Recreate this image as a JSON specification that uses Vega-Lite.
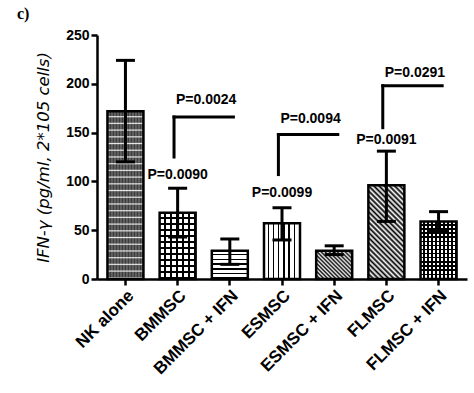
{
  "$schema": "https://vega.github.io/schema/vega-lite/v6.json",
  "width": 370,
  "height": 244,
  "autosize": "none",
  "padding": {"left": 97, "top": 35, "right": 7, "bottom": 114},
  "background": "white",
  "config": {"view": {"stroke": null}},
  "title": {"text": "c)", "anchor": "start", "frame": "group", "font": "Liberation Serif", "fontSize": 16, "fontWeight": "bold", "color": "#000", "dx": -80, "offset": 6},
  "datasets": {
    "bars": [
      {"group": "NK alone", "mean": 172, "lo": 120, "hi": 224},
      {"group": "BMMSC", "mean": 68, "lo": 43, "hi": 93},
      {"group": "BMMSC + IFN", "mean": 29, "lo": 15, "hi": 41},
      {"group": "ESMSC", "mean": 57, "lo": 40, "hi": 73},
      {"group": "ESMSC + IFN", "mean": 29, "lo": 25, "hi": 34},
      {"group": "FLMSC", "mean": 96, "lo": 59, "hi": 131},
      {"group": "FLMSC + IFN", "mean": 59, "lo": 49, "hi": 69}
    ],
    "brackets": [
      {"group": "BMMSC", "group2": "BMMSC + IFN", "top": 166, "bottom": 125, "p": "P=0.0024", "ty": 183},
      {"group": "ESMSC", "group2": "ESMSC + IFN", "top": 148, "bottom": 107, "p": "P=0.0094", "ty": 164},
      {"group": "FLMSC", "group2": "FLMSC + IFN", "top": 198, "bottom": 155, "p": "P=0.0291", "ty": 211}
    ],
    "pvals": [
      {"group": "BMMSC", "p": "P=0.0090", "ty": 107},
      {"group": "ESMSC", "p": "P=0.0099", "ty": 88},
      {"group": "FLMSC", "p": "P=0.0091", "ty": 142}
    ]
  },
  "data": {"name": "bars"},
  "encoding": {
    "x": {
      "field": "group", "type": "nominal",
      "sort": ["NK alone", "BMMSC", "BMMSC + IFN", "ESMSC", "ESMSC + IFN", "FLMSC", "FLMSC + IFN"],
      "scale": {"paddingInner": 0.31, "paddingOuter": 0.2},
      "axis": {"title": null, "labelAngle": -45, "labelFont": "Liberation Sans", "labelFontSize": 17, "labelFontWeight": "bold", "labelColor": "#000", "domainColor": "#000", "domainWidth": 2.5, "tickColor": "#000", "tickWidth": 2.5, "tickSize": 6, "labelPadding": 2}
    }
  },
  "layer": [
    {
      "transform": [{"filter": "datum.group == 'NK alone'"}],
      "mark": {"type": "bar", "fill": {"gradient": "linear", "x1": 0, "y1": 0, "x2": 0, "y2": 1, "stops": [
        {"offset": 0, "color": "#3a3a3a"}, {"offset": 0.026, "color": "#3a3a3a"}, {"offset": 0.033, "color": "#e6e6e6"},
        {"offset": 0.04, "color": "#3a3a3a"}, {"offset": 0.066, "color": "#3a3a3a"}, {"offset": 0.073, "color": "#e6e6e6"},
        {"offset": 0.08, "color": "#3a3a3a"}, {"offset": 0.106, "color": "#3a3a3a"}, {"offset": 0.113, "color": "#e6e6e6"},
        {"offset": 0.12, "color": "#3a3a3a"}, {"offset": 0.146, "color": "#3a3a3a"}, {"offset": 0.153, "color": "#e6e6e6"},
        {"offset": 0.16, "color": "#3a3a3a"}, {"offset": 0.186, "color": "#3a3a3a"}, {"offset": 0.193, "color": "#e6e6e6"},
        {"offset": 0.2, "color": "#3a3a3a"}, {"offset": 0.226, "color": "#3a3a3a"}, {"offset": 0.233, "color": "#e6e6e6"},
        {"offset": 0.24, "color": "#3a3a3a"}, {"offset": 0.266, "color": "#3a3a3a"}, {"offset": 0.273, "color": "#e6e6e6"},
        {"offset": 0.28, "color": "#3a3a3a"}, {"offset": 0.306, "color": "#3a3a3a"}, {"offset": 0.313, "color": "#e6e6e6"},
        {"offset": 0.32, "color": "#3a3a3a"}, {"offset": 0.346, "color": "#3a3a3a"}, {"offset": 0.353, "color": "#e6e6e6"},
        {"offset": 0.36, "color": "#3a3a3a"}, {"offset": 0.386, "color": "#3a3a3a"}, {"offset": 0.393, "color": "#e6e6e6"},
        {"offset": 0.4, "color": "#3a3a3a"}, {"offset": 0.426, "color": "#3a3a3a"}, {"offset": 0.433, "color": "#e6e6e6"},
        {"offset": 0.44, "color": "#3a3a3a"}, {"offset": 0.466, "color": "#3a3a3a"}, {"offset": 0.473, "color": "#e6e6e6"},
        {"offset": 0.48, "color": "#3a3a3a"}, {"offset": 0.506, "color": "#3a3a3a"}, {"offset": 0.513, "color": "#e6e6e6"},
        {"offset": 0.52, "color": "#3a3a3a"}, {"offset": 0.546, "color": "#3a3a3a"}, {"offset": 0.553, "color": "#e6e6e6"},
        {"offset": 0.56, "color": "#3a3a3a"}, {"offset": 0.586, "color": "#3a3a3a"}, {"offset": 0.593, "color": "#e6e6e6"},
        {"offset": 0.6, "color": "#3a3a3a"}, {"offset": 0.626, "color": "#3a3a3a"}, {"offset": 0.633, "color": "#e6e6e6"},
        {"offset": 0.64, "color": "#3a3a3a"}, {"offset": 0.666, "color": "#3a3a3a"}, {"offset": 0.673, "color": "#e6e6e6"},
        {"offset": 0.68, "color": "#3a3a3a"}, {"offset": 0.706, "color": "#3a3a3a"}, {"offset": 0.713, "color": "#e6e6e6"},
        {"offset": 0.72, "color": "#3a3a3a"}, {"offset": 0.746, "color": "#3a3a3a"}, {"offset": 0.753, "color": "#e6e6e6"},
        {"offset": 0.76, "color": "#3a3a3a"}, {"offset": 0.786, "color": "#3a3a3a"}, {"offset": 0.793, "color": "#e6e6e6"},
        {"offset": 0.8, "color": "#3a3a3a"}, {"offset": 0.826, "color": "#3a3a3a"}, {"offset": 0.833, "color": "#e6e6e6"},
        {"offset": 0.84, "color": "#3a3a3a"}, {"offset": 0.866, "color": "#3a3a3a"}, {"offset": 0.873, "color": "#e6e6e6"},
        {"offset": 0.88, "color": "#3a3a3a"}, {"offset": 0.906, "color": "#3a3a3a"}, {"offset": 0.913, "color": "#e6e6e6"},
        {"offset": 0.92, "color": "#3a3a3a"}, {"offset": 0.946, "color": "#3a3a3a"}, {"offset": 0.953, "color": "#e6e6e6"},
        {"offset": 0.96, "color": "#3a3a3a"}, {"offset": 0.986, "color": "#3a3a3a"}, {"offset": 0.993, "color": "#e6e6e6"},
        {"offset": 1, "color": "#3a3a3a"}
      ]}},
      "encoding": {
        "y": {"field": "mean", "type": "quantitative", "scale": {"domain": [0, 250], "nice": false},
          "axis": {"values": [0, 50, 100, 150, 200, 250], "grid": false, "title": "IFN-γ (pg/ml, 2*105 cells)", "titleFont": "DejaVu Sans", "titleFontStyle": "italic", "titleFontWeight": "normal", "titleFontSize": 16.5, "titleColor": "#000", "titleAngle": 270, "titleX": -54, "titleY": 122, "titleAlign": "center", "titleBaseline": "middle", "labelFont": "Liberation Sans", "labelFontSize": 14, "labelFontWeight": "bold", "labelColor": "#000", "domainColor": "#000", "domainWidth": 2.5, "tickColor": "#000", "tickWidth": 2.5, "tickSize": 6, "labelPadding": 2}}
      }
    },
    {
      "transform": [{"filter": "datum.group == 'NK alone'"}],
      "mark": {"type": "bar", "fill": {"gradient": "linear", "x1": 0, "y1": 0, "x2": 1, "y2": 0, "stops": [
        {"offset": 0, "color": "rgba(255,255,255,0)"}, {"offset": 0.0417, "color": "rgba(255,255,255,0.28)"},
        {"offset": 0.0833, "color": "rgba(255,255,255,0)"}, {"offset": 0.125, "color": "rgba(255,255,255,0.28)"},
        {"offset": 0.1667, "color": "rgba(255,255,255,0)"}, {"offset": 0.2083, "color": "rgba(255,255,255,0.28)"},
        {"offset": 0.25, "color": "rgba(255,255,255,0)"}, {"offset": 0.2917, "color": "rgba(255,255,255,0.28)"},
        {"offset": 0.3333, "color": "rgba(255,255,255,0)"}, {"offset": 0.375, "color": "rgba(255,255,255,0.28)"},
        {"offset": 0.4167, "color": "rgba(255,255,255,0)"}, {"offset": 0.4583, "color": "rgba(255,255,255,0.28)"},
        {"offset": 0.5, "color": "rgba(255,255,255,0)"}, {"offset": 0.5417, "color": "rgba(255,255,255,0.28)"},
        {"offset": 0.5833, "color": "rgba(255,255,255,0)"}, {"offset": 0.625, "color": "rgba(255,255,255,0.28)"},
        {"offset": 0.6667, "color": "rgba(255,255,255,0)"}, {"offset": 0.7083, "color": "rgba(255,255,255,0.28)"},
        {"offset": 0.75, "color": "rgba(255,255,255,0)"}, {"offset": 0.7917, "color": "rgba(255,255,255,0.28)"},
        {"offset": 0.8333, "color": "rgba(255,255,255,0)"}, {"offset": 0.875, "color": "rgba(255,255,255,0.28)"},
        {"offset": 0.9167, "color": "rgba(255,255,255,0)"}, {"offset": 0.9583, "color": "rgba(255,255,255,0.28)"},
        {"offset": 1, "color": "rgba(255,255,255,0)"}
      ]}},
      "encoding": {"y": {"field": "mean", "type": "quantitative"}}
    },
    {
      "transform": [{"filter": "datum.group == 'BMMSC'"}],
      "mark": {"type": "bar", "fill": {"gradient": "linear", "x1": 0, "y1": 0, "x2": 0, "y2": 1, "stops": [
        {"offset": 0, "color": "#fff"}, {"offset": 0.0591, "color": "#fff"}, {"offset": 0.0591, "color": "#000"}, {"offset": 0.0909, "color": "#000"},
        {"offset": 0.0909, "color": "#fff"}, {"offset": 0.15, "color": "#fff"}, {"offset": 0.15, "color": "#000"}, {"offset": 0.1818, "color": "#000"},
        {"offset": 0.1818, "color": "#fff"}, {"offset": 0.2409, "color": "#fff"}, {"offset": 0.2409, "color": "#000"}, {"offset": 0.2727, "color": "#000"},
        {"offset": 0.2727, "color": "#fff"}, {"offset": 0.3318, "color": "#fff"}, {"offset": 0.3318, "color": "#000"}, {"offset": 0.3636, "color": "#000"},
        {"offset": 0.3636, "color": "#fff"}, {"offset": 0.4227, "color": "#fff"}, {"offset": 0.4227, "color": "#000"}, {"offset": 0.4545, "color": "#000"},
        {"offset": 0.4545, "color": "#fff"}, {"offset": 0.5136, "color": "#fff"}, {"offset": 0.5136, "color": "#000"}, {"offset": 0.5455, "color": "#000"},
        {"offset": 0.5455, "color": "#fff"}, {"offset": 0.6045, "color": "#fff"}, {"offset": 0.6045, "color": "#000"}, {"offset": 0.6364, "color": "#000"},
        {"offset": 0.6364, "color": "#fff"}, {"offset": 0.6955, "color": "#fff"}, {"offset": 0.6955, "color": "#000"}, {"offset": 0.7273, "color": "#000"},
        {"offset": 0.7273, "color": "#fff"}, {"offset": 0.7864, "color": "#fff"}, {"offset": 0.7864, "color": "#000"}, {"offset": 0.8182, "color": "#000"},
        {"offset": 0.8182, "color": "#fff"}, {"offset": 0.8773, "color": "#fff"}, {"offset": 0.8773, "color": "#000"}, {"offset": 0.9091, "color": "#000"},
        {"offset": 0.9091, "color": "#fff"}, {"offset": 0.9682, "color": "#fff"}, {"offset": 0.9682, "color": "#000"}, {"offset": 1, "color": "#000"}
      ]}},
      "encoding": {"y": {"field": "mean", "type": "quantitative"}}
    },
    {
      "transform": [{"filter": "datum.group == 'BMMSC'"}],
      "mark": {"type": "bar", "fill": {"gradient": "linear", "x1": 0, "y1": 0, "x2": 1, "y2": 0, "stops": [
        {"offset": 0, "color": "rgba(0,0,0,0)"}, {"offset": 0.1083, "color": "rgba(0,0,0,0)"}, {"offset": 0.1083, "color": "#000"}, {"offset": 0.1667, "color": "#000"},
        {"offset": 0.1667, "color": "rgba(0,0,0,0)"}, {"offset": 0.275, "color": "rgba(0,0,0,0)"}, {"offset": 0.275, "color": "#000"}, {"offset": 0.3333, "color": "#000"},
        {"offset": 0.3333, "color": "rgba(0,0,0,0)"}, {"offset": 0.4417, "color": "rgba(0,0,0,0)"}, {"offset": 0.4417, "color": "#000"}, {"offset": 0.5, "color": "#000"},
        {"offset": 0.5, "color": "rgba(0,0,0,0)"}, {"offset": 0.6083, "color": "rgba(0,0,0,0)"}, {"offset": 0.6083, "color": "#000"}, {"offset": 0.6667, "color": "#000"},
        {"offset": 0.6667, "color": "rgba(0,0,0,0)"}, {"offset": 0.775, "color": "rgba(0,0,0,0)"}, {"offset": 0.775, "color": "#000"}, {"offset": 0.8333, "color": "#000"},
        {"offset": 0.8333, "color": "rgba(0,0,0,0)"}, {"offset": 0.9417, "color": "rgba(0,0,0,0)"}, {"offset": 0.9417, "color": "#000"}, {"offset": 1, "color": "#000"}
      ]}},
      "encoding": {"y": {"field": "mean", "type": "quantitative"}}
    },
    {
      "transform": [{"filter": "datum.group == 'BMMSC + IFN'"}],
      "mark": {"type": "bar", "fill": {"gradient": "linear", "x1": 0, "y1": 0, "x2": 0, "y2": 1, "stops": [
        {"offset": 0, "color": "#fff"}, {"offset": 0.1111, "color": "#fff"}, {"offset": 0.1111, "color": "#000"}, {"offset": 0.1667, "color": "#000"},
        {"offset": 0.1667, "color": "#fff"}, {"offset": 0.2778, "color": "#fff"}, {"offset": 0.2778, "color": "#000"}, {"offset": 0.3333, "color": "#000"},
        {"offset": 0.3333, "color": "#fff"}, {"offset": 0.4444, "color": "#fff"}, {"offset": 0.4444, "color": "#000"}, {"offset": 0.5, "color": "#000"},
        {"offset": 0.5, "color": "#fff"}, {"offset": 0.6111, "color": "#fff"}, {"offset": 0.6111, "color": "#000"}, {"offset": 0.6667, "color": "#000"},
        {"offset": 0.6667, "color": "#fff"}, {"offset": 0.7778, "color": "#fff"}, {"offset": 0.7778, "color": "#000"}, {"offset": 0.8333, "color": "#000"},
        {"offset": 0.8333, "color": "#fff"}, {"offset": 0.9444, "color": "#fff"}, {"offset": 0.9444, "color": "#000"}, {"offset": 1, "color": "#000"}
      ]}},
      "encoding": {"y": {"field": "mean", "type": "quantitative"}}
    },
    {
      "transform": [{"filter": "datum.group == 'ESMSC'"}],
      "mark": {"type": "bar", "fill": {"gradient": "linear", "x1": 0, "y1": 0, "x2": 1, "y2": 0, "stops": [
        {"offset": 0, "color": "#fff"}, {"offset": 0.1071, "color": "#fff"}, {"offset": 0.1071, "color": "#000"}, {"offset": 0.1429, "color": "#000"},
        {"offset": 0.1429, "color": "#fff"}, {"offset": 0.25, "color": "#fff"}, {"offset": 0.25, "color": "#000"}, {"offset": 0.2857, "color": "#000"},
        {"offset": 0.2857, "color": "#fff"}, {"offset": 0.3929, "color": "#fff"}, {"offset": 0.3929, "color": "#000"}, {"offset": 0.4286, "color": "#000"},
        {"offset": 0.4286, "color": "#fff"}, {"offset": 0.5357, "color": "#fff"}, {"offset": 0.5357, "color": "#000"}, {"offset": 0.5714, "color": "#000"},
        {"offset": 0.5714, "color": "#fff"}, {"offset": 0.6786, "color": "#fff"}, {"offset": 0.6786, "color": "#000"}, {"offset": 0.7143, "color": "#000"},
        {"offset": 0.7143, "color": "#fff"}, {"offset": 0.8214, "color": "#fff"}, {"offset": 0.8214, "color": "#000"}, {"offset": 0.8571, "color": "#000"},
        {"offset": 0.8571, "color": "#fff"}, {"offset": 0.9643, "color": "#fff"}, {"offset": 0.9643, "color": "#000"}, {"offset": 1, "color": "#000"}
      ]}},
      "encoding": {"y": {"field": "mean", "type": "quantitative"}}
    },
    {
      "transform": [{"filter": "datum.group == 'ESMSC + IFN'"}],
      "mark": {"type": "bar", "fill": {"gradient": "linear", "x1": 0, "y1": 1, "x2": 1.104, "y2": 0.132, "stops": [
        {"offset": 0, "color": "#000"}, {"offset": 0.03125, "color": "#fff"}, {"offset": 0.0625, "color": "#000"}, {"offset": 0.09375, "color": "#fff"},
        {"offset": 0.125, "color": "#000"}, {"offset": 0.15625, "color": "#fff"}, {"offset": 0.1875, "color": "#000"}, {"offset": 0.21875, "color": "#fff"},
        {"offset": 0.25, "color": "#000"}, {"offset": 0.28125, "color": "#fff"}, {"offset": 0.3125, "color": "#000"}, {"offset": 0.34375, "color": "#fff"},
        {"offset": 0.375, "color": "#000"}, {"offset": 0.40625, "color": "#fff"}, {"offset": 0.4375, "color": "#000"}, {"offset": 0.46875, "color": "#fff"},
        {"offset": 0.5, "color": "#000"}, {"offset": 0.53125, "color": "#fff"}, {"offset": 0.5625, "color": "#000"}, {"offset": 0.59375, "color": "#fff"},
        {"offset": 0.625, "color": "#000"}, {"offset": 0.65625, "color": "#fff"}, {"offset": 0.6875, "color": "#000"}, {"offset": 0.71875, "color": "#fff"},
        {"offset": 0.75, "color": "#000"}, {"offset": 0.78125, "color": "#fff"}, {"offset": 0.8125, "color": "#000"}, {"offset": 0.84375, "color": "#fff"},
        {"offset": 0.875, "color": "#000"}, {"offset": 0.90625, "color": "#fff"}, {"offset": 0.9375, "color": "#000"}, {"offset": 0.96875, "color": "#fff"},
        {"offset": 1, "color": "#000"}
      ]}},
      "encoding": {"y": {"field": "mean", "type": "quantitative"}}
    },
    {
      "transform": [{"filter": "datum.group == 'FLMSC'"}],
      "mark": {"type": "bar", "fill": {"gradient": "linear", "x1": 0, "y1": 1, "x2": 0.4634, "y2": -0.2061, "stops": [
        {"offset": 0, "color": "#000"}, {"offset": 0.02, "color": "#fff"}, {"offset": 0.04, "color": "#000"}, {"offset": 0.06, "color": "#fff"},
        {"offset": 0.08, "color": "#000"}, {"offset": 0.1, "color": "#fff"}, {"offset": 0.12, "color": "#000"}, {"offset": 0.14, "color": "#fff"},
        {"offset": 0.16, "color": "#000"}, {"offset": 0.18, "color": "#fff"}, {"offset": 0.2, "color": "#000"}, {"offset": 0.22, "color": "#fff"},
        {"offset": 0.24, "color": "#000"}, {"offset": 0.26, "color": "#fff"}, {"offset": 0.28, "color": "#000"}, {"offset": 0.3, "color": "#fff"},
        {"offset": 0.32, "color": "#000"}, {"offset": 0.34, "color": "#fff"}, {"offset": 0.36, "color": "#000"}, {"offset": 0.38, "color": "#fff"},
        {"offset": 0.4, "color": "#000"}, {"offset": 0.42, "color": "#fff"}, {"offset": 0.44, "color": "#000"}, {"offset": 0.46, "color": "#fff"},
        {"offset": 0.48, "color": "#000"}, {"offset": 0.5, "color": "#fff"}, {"offset": 0.52, "color": "#000"}, {"offset": 0.54, "color": "#fff"},
        {"offset": 0.56, "color": "#000"}, {"offset": 0.58, "color": "#fff"}, {"offset": 0.6, "color": "#000"}, {"offset": 0.62, "color": "#fff"},
        {"offset": 0.64, "color": "#000"}, {"offset": 0.66, "color": "#fff"}, {"offset": 0.68, "color": "#000"}, {"offset": 0.7, "color": "#fff"},
        {"offset": 0.72, "color": "#000"}, {"offset": 0.74, "color": "#fff"}, {"offset": 0.76, "color": "#000"}, {"offset": 0.78, "color": "#fff"},
        {"offset": 0.8, "color": "#000"}, {"offset": 0.82, "color": "#fff"}, {"offset": 0.84, "color": "#000"}, {"offset": 0.86, "color": "#fff"},
        {"offset": 0.88, "color": "#000"}, {"offset": 0.9, "color": "#fff"}, {"offset": 0.92, "color": "#000"}, {"offset": 0.94, "color": "#fff"},
        {"offset": 0.96, "color": "#000"}, {"offset": 0.98, "color": "#fff"}, {"offset": 1, "color": "#000"}
      ]}},
      "encoding": {"y": {"field": "mean", "type": "quantitative"}}
    },
    {
      "transform": [{"filter": "datum.group == 'FLMSC + IFN'"}],
      "mark": {"type": "bar", "fill": {"gradient": "linear", "x1": 0, "y1": 0, "x2": 0, "y2": 1, "stops": [
        {"offset": 0, "color": "#fff"}, {"offset": 0.0476, "color": "#fff"}, {"offset": 0.0476, "color": "#000"}, {"offset": 0.0714, "color": "#000"},
        {"offset": 0.0714, "color": "#fff"}, {"offset": 0.119, "color": "#fff"}, {"offset": 0.119, "color": "#000"}, {"offset": 0.1429, "color": "#000"},
        {"offset": 0.1429, "color": "#fff"}, {"offset": 0.1905, "color": "#fff"}, {"offset": 0.1905, "color": "#000"}, {"offset": 0.2143, "color": "#000"},
        {"offset": 0.2143, "color": "#fff"}, {"offset": 0.2619, "color": "#fff"}, {"offset": 0.2619, "color": "#000"}, {"offset": 0.2857, "color": "#000"},
        {"offset": 0.2857, "color": "#fff"}, {"offset": 0.3333, "color": "#fff"}, {"offset": 0.3333, "color": "#000"}, {"offset": 0.3571, "color": "#000"},
        {"offset": 0.3571, "color": "#fff"}, {"offset": 0.4048, "color": "#fff"}, {"offset": 0.4048, "color": "#000"}, {"offset": 0.4286, "color": "#000"},
        {"offset": 0.4286, "color": "#fff"}, {"offset": 0.4762, "color": "#fff"}, {"offset": 0.4762, "color": "#000"}, {"offset": 0.5, "color": "#000"},
        {"offset": 0.5, "color": "#fff"}, {"offset": 0.5476, "color": "#fff"}, {"offset": 0.5476, "color": "#000"}, {"offset": 0.5714, "color": "#000"},
        {"offset": 0.5714, "color": "#fff"}, {"offset": 0.619, "color": "#fff"}, {"offset": 0.619, "color": "#000"}, {"offset": 0.6429, "color": "#000"},
        {"offset": 0.6429, "color": "#fff"}, {"offset": 0.6905, "color": "#fff"}, {"offset": 0.6905, "color": "#000"}, {"offset": 0.7143, "color": "#000"},
        {"offset": 0.7143, "color": "#fff"}, {"offset": 0.7619, "color": "#fff"}, {"offset": 0.7619, "color": "#000"}, {"offset": 0.7857, "color": "#000"},
        {"offset": 0.7857, "color": "#fff"}, {"offset": 0.8333, "color": "#fff"}, {"offset": 0.8333, "color": "#000"}, {"offset": 0.8571, "color": "#000"},
        {"offset": 0.8571, "color": "#fff"}, {"offset": 0.9048, "color": "#fff"}, {"offset": 0.9048, "color": "#000"}, {"offset": 0.9286, "color": "#000"},
        {"offset": 0.9286, "color": "#fff"}, {"offset": 0.9762, "color": "#fff"}, {"offset": 0.9762, "color": "#000"}, {"offset": 1, "color": "#000"}
      ]}},
      "encoding": {"y": {"field": "mean", "type": "quantitative"}}
    },
    {
      "transform": [{"filter": "datum.group == 'FLMSC + IFN'"}],
      "mark": {"type": "bar", "fill": {"gradient": "linear", "x1": 0, "y1": 0, "x2": 1, "y2": 0, "stops": [
        {"offset": 0, "color": "rgba(0,0,0,0)"}, {"offset": 0.0741, "color": "rgba(0,0,0,0)"}, {"offset": 0.0741, "color": "#000"}, {"offset": 0.1111, "color": "#000"},
        {"offset": 0.1111, "color": "rgba(0,0,0,0)"}, {"offset": 0.1852, "color": "rgba(0,0,0,0)"}, {"offset": 0.1852, "color": "#000"}, {"offset": 0.2222, "color": "#000"},
        {"offset": 0.2222, "color": "rgba(0,0,0,0)"}, {"offset": 0.2963, "color": "rgba(0,0,0,0)"}, {"offset": 0.2963, "color": "#000"}, {"offset": 0.3333, "color": "#000"},
        {"offset": 0.3333, "color": "rgba(0,0,0,0)"}, {"offset": 0.4074, "color": "rgba(0,0,0,0)"}, {"offset": 0.4074, "color": "#000"}, {"offset": 0.4444, "color": "#000"},
        {"offset": 0.4444, "color": "rgba(0,0,0,0)"}, {"offset": 0.5185, "color": "rgba(0,0,0,0)"}, {"offset": 0.5185, "color": "#000"}, {"offset": 0.5556, "color": "#000"},
        {"offset": 0.5556, "color": "rgba(0,0,0,0)"}, {"offset": 0.6296, "color": "rgba(0,0,0,0)"}, {"offset": 0.6296, "color": "#000"}, {"offset": 0.6667, "color": "#000"},
        {"offset": 0.6667, "color": "rgba(0,0,0,0)"}, {"offset": 0.7407, "color": "rgba(0,0,0,0)"}, {"offset": 0.7407, "color": "#000"}, {"offset": 0.7778, "color": "#000"},
        {"offset": 0.7778, "color": "rgba(0,0,0,0)"}, {"offset": 0.8519, "color": "rgba(0,0,0,0)"}, {"offset": 0.8519, "color": "#000"}, {"offset": 0.8889, "color": "#000"},
        {"offset": 0.8889, "color": "rgba(0,0,0,0)"}, {"offset": 0.963, "color": "rgba(0,0,0,0)"}, {"offset": 0.963, "color": "#000"}, {"offset": 1, "color": "#000"}
      ]}},
      "encoding": {"y": {"field": "mean", "type": "quantitative"}}
    },
    {
      "mark": {"type": "bar", "fill": "transparent", "stroke": "#000", "strokeWidth": 2.5},
      "encoding": {"y": {"field": "mean", "type": "quantitative"}}
    },
    {
      "mark": {"type": "rule", "color": "#000", "strokeWidth": 3},
      "encoding": {"y": {"field": "lo", "type": "quantitative"}, "y2": {"field": "hi"}}
    },
    {
      "transform": [{"fold": ["lo", "hi"], "as": ["end", "val"]}],
      "mark": {"type": "tick", "color": "#000", "size": 19, "thickness": 3, "orient": "horizontal", "opacity": 1},
      "encoding": {"y": {"field": "val", "type": "quantitative"}}
    },
    {
      "data": {"name": "brackets"},
      "mark": {"type": "rule", "color": "#000", "strokeWidth": 3, "strokeCap": "square"},
      "encoding": {
        "x": {"field": "group", "type": "nominal", "bandPosition": 0.4},
        "y": {"field": "bottom", "type": "quantitative"},
        "y2": {"field": "top"}
      }
    },
    {
      "data": {"name": "brackets"},
      "mark": {"type": "rule", "color": "#000", "strokeWidth": 3, "strokeCap": "square"},
      "encoding": {
        "x": {"field": "group", "type": "nominal", "bandPosition": 0.4},
        "x2": {"field": "group2", "bandPosition": 0.6},
        "y": {"field": "top", "type": "quantitative"}
      }
    },
    {
      "data": {"name": "brackets"},
      "mark": {"type": "text", "align": "left", "baseline": "middle", "dx": 2, "font": "Liberation Sans", "fontSize": 14, "fontWeight": "bold", "color": "#000"},
      "encoding": {
        "x": {"field": "group", "type": "nominal", "bandPosition": 0.4},
        "y": {"field": "ty", "type": "quantitative"},
        "text": {"field": "p"}
      }
    },
    {
      "data": {"name": "pvals"},
      "mark": {"type": "text", "align": "center", "baseline": "middle", "font": "Liberation Sans", "fontSize": 14, "fontWeight": "bold", "color": "#000"},
      "encoding": {
        "y": {"field": "ty", "type": "quantitative"},
        "text": {"field": "p"}
      }
    }
  ]
}
